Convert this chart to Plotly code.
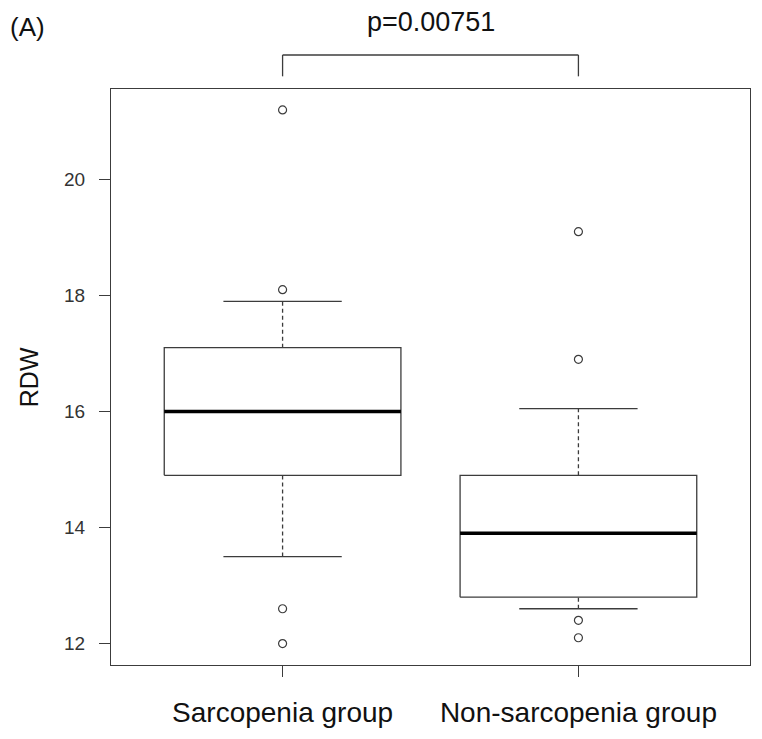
import plotly.graph_objects as go

# Dados (RDW por grupo)
GROUPS = ["Sarcopenia group", "Non-sarcopenia group"]
POSITIONS = [1, 2]
Q1 = [14.9, 12.8]
MEDIAN = [16.0, 13.9]
Q3 = [17.1, 14.9]
WHISKER_LOW = [13.5, 12.6]
WHISKER_HIGH = [17.9, 16.05]
OUTLIERS = [[21.2, 18.1, 12.6, 12.0], [19.1, 16.9, 12.4, 12.1]]
Y_TICKS = [12, 14, 16, 18, 20]
P_LABEL = "p=0.00751"

FONT = "Liberation Sans, Arial, sans-serif"
LINE = "#3c3c3c"
HALF_BOX = 0.4
HALF_CAP = 0.2


def line(x, y, width=1.3, color=LINE, dash="solid"):
    return go.Scatter(x=x, y=y, mode="lines", hoverinfo="skip", showlegend=False,
                      line=dict(color=color, width=width, dash=dash))


fig = go.Figure()

for c, lo, a, m, b, hi, out in zip(POSITIONS, WHISKER_LOW, Q1, MEDIAN, Q3, WHISKER_HIGH, OUTLIERS):
    # bigodes tracejados
    fig.add_trace(line([c, c], [b, hi], dash="4px,3px"))
    fig.add_trace(line([c, c], [lo, a], dash="4px,3px"))
    # caixa
    fig.add_trace(line([c - HALF_BOX, c + HALF_BOX, c + HALF_BOX, c - HALF_BOX, c - HALF_BOX],
                       [a, a, b, b, a]))
    # mediana
    fig.add_trace(line([c - HALF_BOX, c + HALF_BOX], [m, m], width=3.5, color="#000000"))
    # extremidades
    fig.add_trace(line([c - HALF_CAP, c + HALF_CAP], [hi, hi]))
    fig.add_trace(line([c - HALF_CAP, c + HALF_CAP], [lo, lo]))
    # outliers
    fig.add_trace(go.Scatter(x=[c] * len(out), y=out, mode="markers", showlegend=False,
                             marker=dict(symbol="circle-open", size=8, color=LINE,
                                         line=dict(width=1.2, color=LINE))))

# colchete do p-valor
bx0, bx1 = POSITIONS
fig.add_shape(type="line", xref="x", yref="paper", x0=bx0, x1=bx1, y0=1.059, y1=1.059,
              line=dict(color=LINE, width=1.3))
for bx in POSITIONS:
    fig.add_shape(type="line", xref="x", yref="paper", x0=bx, x1=bx, y0=1.022, y1=1.059,
                  line=dict(color=LINE, width=1.3))

fig.add_annotation(x=sum(POSITIONS) / 2, xref="x", y=1.116, yref="paper", text=P_LABEL,
                   yanchor="middle", showarrow=False,
                   font=dict(family=FONT, size=27, color="#111111"))
fig.add_annotation(x=-0.161, xref="paper", y=1.108, yref="paper", text="(A)",
                   xanchor="left", yanchor="middle", showarrow=False,
                   font=dict(family=FONT, size=26, color="#111111"))
fig.add_annotation(x=-0.128, xref="paper", y=0.5, yref="paper", text="RDW", textangle=-90,
                   xanchor="center", yanchor="middle", showarrow=False,
                   font=dict(family=FONT, size=25, color="#111111"))

# a página tem 8px de margem no body: a figura é reduzida para caber na janela
fig.update_layout(
    width=754,
    height=731,
    paper_bgcolor="white",
    plot_bgcolor="white",
    margin=dict(l=103, r=12, t=81, b=74),
    font=dict(family=FONT, color="#222222"),
)
fig.update_xaxes(
    range=[0.42, 2.58], tickvals=POSITIONS, ticktext=GROUPS, ticks="outside", ticklen=11,
    tickcolor=LINE, tickwidth=1.2, showgrid=False, zeroline=False, showline=True, mirror=True,
    linecolor=LINE, linewidth=1.3, tickfont=dict(family=FONT, size=28, color="#111111"),
    ticklabelstandoff=11, automargin=False,
)
fig.update_yaxes(
    range=[11.63, 21.56], tickvals=Y_TICKS, ticks="outside", ticklen=11, tickcolor=LINE,
    tickwidth=1.2, showgrid=False, zeroline=False, showline=True, mirror=True,
    linecolor=LINE, linewidth=1.3, tickfont=dict(family=FONT, size=19, color="#333333"),
    ticklabelstandoff=10, automargin=False,
)

fig.write_html("out.html")
